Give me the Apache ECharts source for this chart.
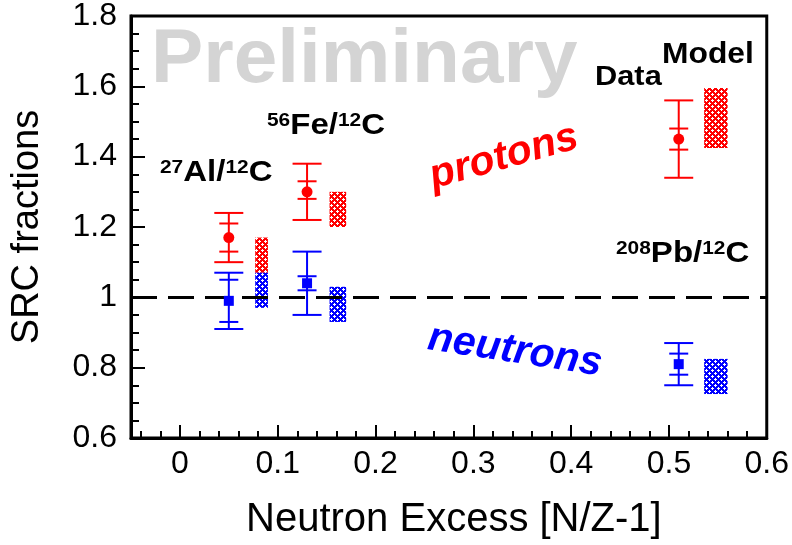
<!DOCTYPE html>
<html>
<head>
<meta charset="utf-8">
<script src="https://cdn.jsdelivr.net/npm/echarts@6/dist/echarts.min.js"></script>
<style>
html, body { margin: 0; padding: 0; background: #fff; }
#main { width: 792px; height: 545px; }
</style>
</head>
<body>
<div id="main"></div>
<script>
// values
const neutronExcess = [0.05, 0.13, 0.51];

const protonValue = [1.17, 1.30, 1.45];
const protonStatLow = [1.13, 1.28, 1.42];
const protonStatHigh = [1.21, 1.33, 1.48];
const protonTotLow = [1.10, 1.22, 1.34];
const protonTotHigh = [1.24, 1.38, 1.56];

const neutronValue = [0.99, 1.04, 0.81];
const neutronStatLow = [0.93, 1.02, 0.78];
const neutronStatHigh = [1.05, 1.06, 0.84];
const neutronTotLow = [0.91, 0.95, 0.75];
const neutronTotHigh = [1.07, 1.13, 0.87];

// model bands (x range where drawn, y range)
const modelXLow = [0.077, 0.153, 0.536];
const modelXHigh = [0.090, 0.170, 0.560];
const modelProtonLow = [1.07, 1.20, 1.425];
const modelProtonHigh = [1.17, 1.30, 1.595];
const modelNeutronLow = [0.97, 0.93, 0.725];
const modelNeutronHigh = [1.07, 1.03, 0.825];

const xTicks = [0, 0.1, 0.2, 0.3, 0.4, 0.5, 0.6];
const yTicks = [0.6, 0.8, 1, 1.2, 1.4, 1.6, 1.8];

const FONT = 'Liberation Sans';
const RED = '#ff0000';
const BLUE = '#0000ff';

function hatch(color) {
    const c = document.createElement('canvas');
    c.width = 6; c.height = 6;
    const g = c.getContext('2d');
    g.fillStyle = color;
    g.fillRect(0, 0, 6, 6);
    g.fillStyle = '#fff';
    [[1,0],[0,1],[1,1],[2,1],[1,2],[4,3],[3,4],[4,4],[5,4],[4,5]].forEach(p => g.fillRect(p[0], p[1], 1, 1));
    return { image: c, repeat: 'repeat' };
}

function errorBar(color) {
    return function (params, api) {
        const x = api.value(0);
        const lo = api.coord([x, api.value(1)]);
        const sLo = api.coord([x, api.value(2)]);
        const sHi = api.coord([x, api.value(3)]);
        const hi = api.coord([x, api.value(4)]);
        const st = { stroke: color, lineWidth: 2 };
        const cap = (pt, w) => ({ type: 'line', shape: { x1: pt[0] - w, y1: pt[1], x2: pt[0] + w, y2: pt[1] }, style: st });
        return {
            type: 'group',
            children: [
                { type: 'line', shape: { x1: lo[0], y1: lo[1], x2: hi[0], y2: hi[1] }, style: st },
                cap(lo, 14.5), cap(hi, 14.5), cap(sLo, 9.5), cap(sHi, 9.5)
            ]
        };
    };
}

function modelBox(color) {
    const fill = hatch(color);
    return function (params, api) {
        const a = api.coord([api.value(0), api.value(3)]);
        const b = api.coord([api.value(1), api.value(2)]);
        return {
            type: 'rect',
            shape: { x: a[0], y: a[1], width: b[0] - a[0], height: b[1] - a[1] },
            style: { fill: fill }
        };
    };
}

function nucleusLabel(text, x, y) {
    return {
        type: 'text', x: x, y: y, scaleX: 1.1,
        style: {
            text: text, verticalAlign: 'bottom',
            rich: {
                s: { fontSize: 19, fontWeight: 'bold', fontFamily: FONT, fill: '#000', verticalAlign: 'top' },
                b: { fontSize: 30, fontWeight: 'bold', fontFamily: FONT, fill: '#000', verticalAlign: 'bottom' }
            }
        }
    };
}

const idx = neutronExcess.map((_, i) => i);

const chart = echarts.init(document.getElementById('main'));

const option = {
    animation: false,
    textStyle: { fontFamily: FONT },
    grid: {
        left: 131, right: 25, top: 15, bottom: 104,
        show: true, borderColor: '#000', borderWidth: 3
    },
    xAxis: {
        type: 'value',
        min: -0.05, max: 0.6,
        splitNumber: 6,
        name: 'Neutron Excess [N/Z-1]',
        nameLocation: 'middle',
        nameGap: 62,
        nameTextStyle: { fontSize: 40, color: '#000', fontFamily: FONT, padding: [0, 0, 0, 10] },
        axisLine: { show: true, onZero: false, lineStyle: { color: '#000', width: 3 } },
        axisTick: { inside: true, length: 13, lineStyle: { color: '#000', width: 2 } },
        minorTick: { show: true, splitNumber: 5, length: 7, lineStyle: { color: '#000', width: 2 } },
        splitLine: { show: false },
        axisLabel: {
            showMinLabel: false,
            fontSize: 32, color: '#000', margin: 10,
            formatter: v => xTicks.some(t => Math.abs(t - v) < 1e-6) ? String(+v.toFixed(2)) : ''
        }
    },
    yAxis: {
        type: 'value',
        min: 0.6, max: 1.8, interval: 0.2,
        name: 'SRC fractions',
        nameLocation: 'middle',
        nameGap: 84,
        nameTextStyle: { fontSize: 38, color: '#000', fontFamily: FONT },
        axisLine: { show: true, onZero: false, lineStyle: { color: '#000', width: 3 } },
        axisTick: { inside: true, length: 14, lineStyle: { color: '#000', width: 2 } },
        minorTick: { show: true, splitNumber: 4, length: 8, lineStyle: { color: '#000', width: 2 } },
        splitLine: { show: false },
        axisLabel: {
            fontSize: 32, color: '#000', margin: 14,
            formatter: v => yTicks.some(t => Math.abs(t - v) < 1e-6) ? String(+v.toFixed(2)) : ''
        }
    },
    series: [
        {
            type: 'custom',
            renderItem: modelBox(RED),
            data: idx.map(i => [modelXLow[i], modelXHigh[i], modelProtonLow[i], modelProtonHigh[i]]),
            encode: { x: [0, 1], y: [2, 3] },
            z: 2
        },
        {
            type: 'custom',
            renderItem: modelBox(BLUE),
            data: idx.map(i => [modelXLow[i], modelXHigh[i], modelNeutronLow[i], modelNeutronHigh[i]]),
            encode: { x: [0, 1], y: [2, 3] },
            z: 2
        },
        {
            type: 'custom',
            renderItem: errorBar(RED),
            data: idx.map(i => [neutronExcess[i], protonTotLow[i], protonStatLow[i], protonStatHigh[i], protonTotHigh[i]]),
            encode: { x: 0, y: [1, 2, 3, 4] },
            z: 3
        },
        {
            type: 'custom',
            renderItem: errorBar(BLUE),
            data: idx.map(i => [neutronExcess[i], neutronTotLow[i], neutronStatLow[i], neutronStatHigh[i], neutronTotHigh[i]]),
            encode: { x: 0, y: [1, 2, 3, 4] },
            z: 3
        },
        {
            type: 'scatter',
            symbol: 'circle',
            symbolSize: 11,
            itemStyle: { color: RED, opacity: 1 },
            data: idx.map(i => [neutronExcess[i], protonValue[i]]),
            z: 4,
            markLine: {
                silent: true,
                symbol: 'none',
                label: { show: false },
                lineStyle: { color: '#000', width: 3, type: [26, 11] },
                data: [{ yAxis: 1 }],
                z: 5
            }
        },
        {
            type: 'scatter',
            symbol: 'rect',
            symbolSize: 10,
            itemStyle: { color: BLUE, opacity: 1 },
            data: idx.map(i => [neutronExcess[i], neutronValue[i]]),
            z: 6
        }
    ],
    graphic: [
        {
            type: 'text', x: 151, y: 99, z: -10, scaleX: 1.03,
            style: { text: 'Preliminary', fill: '#d4d4d4', fontSize: 76, fontWeight: 'bold', fontFamily: FONT, verticalAlign: 'bottom' }
        },
        nucleusLabel('{s|27}{b|Al/}{s|12}{b|C}', 160, 188),
        nucleusLabel('{s|56}{b|Fe/}{s|12}{b|C}', 267, 141),
        nucleusLabel('{s|208}{b|Pb/}{s|12}{b|C}', 616, 269),
        {
            type: 'text', x: 595, y: 91, scaleX: 1.1,
            style: { text: 'Data', fill: '#000', fontSize: 28, fontWeight: 'bold', fontFamily: FONT, verticalAlign: 'bottom' }
        },
        {
            type: 'text', x: 662, y: 70, scaleX: 1.06,
            style: { text: 'Model', fill: '#000', fontSize: 30, fontWeight: 'bold', fontFamily: FONT, verticalAlign: 'bottom' }
        },
        {
            type: 'text', x: 504, y: 157, rotation: 0.274,
            style: { text: 'protons', fill: RED, fontSize: 41, fontWeight: 'bold', fontStyle: 'italic', fontFamily: FONT, align: 'center', verticalAlign: 'middle' }
        },
        {
            type: 'text', x: 515, y: 351, rotation: -0.152,
            style: { text: 'neutrons', fill: BLUE, fontSize: 41, fontWeight: 'bold', fontStyle: 'italic', fontFamily: FONT, align: 'center', verticalAlign: 'middle' }
        }
    ]
};

chart.setOption(option);
</script>
</body>
</html>
